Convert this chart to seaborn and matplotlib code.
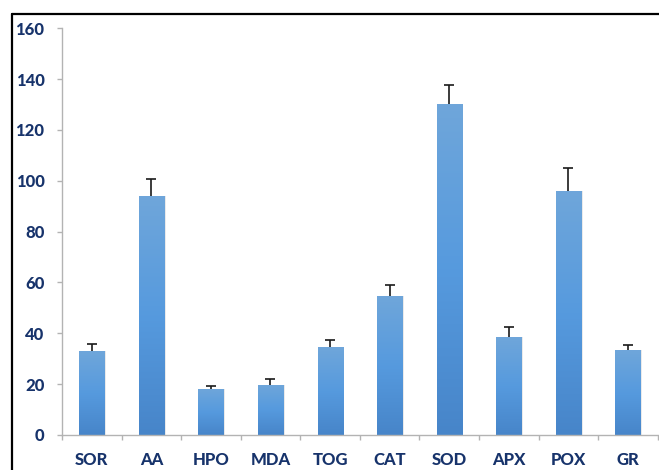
import numpy as np
import pandas as pd
import matplotlib
matplotlib.use("Agg")
import matplotlib.pyplot as plt
from matplotlib.lines import Line2D
from matplotlib.colors import LinearSegmentedColormap
import seaborn as sns

# Measured means and standard errors for each parameter
categories = ["SOR", "AA", "HPO", "MDA", "TOG", "CAT", "SOD", "APX", "POX", "GR"]
means = [33.0, 94.0, 18.1, 19.7, 34.6, 54.6, 130.1, 38.5, 95.9, 33.4]
errors = [2.7, 6.6, 1.3, 2.2, 2.7, 4.4, 7.6, 3.8, 9.2, 1.9]
yticks = [0, 20, 40, 60, 80, 100, 120, 140, 160]

df = pd.DataFrame({"param": categories, "value": means, "err": errors})

sns.set_theme(style="white")
plt.rcParams["font.family"] = ["Lato", "DejaVu Sans"]

label_color = "#17336b"
axis_color = "#b3b3b3"

fig = plt.figure(figsize=(6.59, 4.70), dpi=100)
ax = fig.add_axes([0.094, 0.0745, 0.904, 0.8655])

sns.barplot(data=df, x="param", y="value", color="#5b9bd5", width=0.42,
            errorbar=None, saturation=1, ax=ax, zorder=2)

# Vertical gradient fill on each bar, plus a faint drop shadow
grad = LinearSegmentedColormap.from_list("bar", ["#4785c9", "#569ade", "#6fa6da"])
gimg = np.linspace(0, 1, 256).reshape(-1, 1)
for p in list(ax.patches):
    x0, w, h = p.get_x(), p.get_width(), p.get_height()
    shadow = plt.Rectangle((x0 + 0.03, 0), w, h, facecolor="#000000", alpha=0.10,
                           edgecolor="none", zorder=1.5)
    ax.add_patch(shadow)
    im = ax.imshow(gimg, cmap=grad, extent=[x0, x0 + w, 0, h], origin="lower",
                   aspect="auto", zorder=2.1)
    im.set_clip_path(p)

# Upper error bars only
_, caps, _ = ax.errorbar(np.arange(len(categories)), df["value"],
                         yerr=[np.zeros(len(errors)), df["err"]], fmt="none",
                         ecolor="#1a1a1a", elinewidth=1.2, capsize=3.5,
                         capthick=1.2, zorder=3)
caps[0].set_visible(False)

ax.set_xlim(-0.5, len(categories) - 0.5)
ax.set_ylim(0, 160)
ax.set_yticks(yticks)
ax.set_xlabel("")
ax.set_ylabel("")

for side in ["top", "right"]:
    ax.spines[side].set_visible(False)
for side in ["left", "bottom"]:
    ax.spines[side].set_color(axis_color)
    ax.spines[side].set_linewidth(1.0)

ax.set_xticks(np.arange(-0.5, len(categories)), minor=True)
ax.tick_params(axis="x", which="major", length=0, pad=12,
               labelsize=12, labelcolor=label_color)
ax.tick_params(axis="x", which="minor", length=3.6, width=1.0, color=axis_color,
               direction="out", bottom=True)
ax.tick_params(axis="y", which="major", length=3.6, width=1.0, color=axis_color,
               direction="out", left=True, pad=9, labelsize=12,
               labelcolor=label_color)
for lab in ax.get_xticklabels() + ax.get_yticklabels():
    lab.set_fontweight(900)

ax.grid(False)

# Chart-area border along the left and top edges
fig.add_artist(Line2D([0.0182, 0.0182], [0.0, 0.970], transform=fig.transFigure,
                      color="black", linewidth=1.6))
fig.add_artist(Line2D([0.0182, 1.0], [0.970, 0.970], transform=fig.transFigure,
                      color="black", linewidth=1.6))

fig.savefig("out.png", dpi=100)
